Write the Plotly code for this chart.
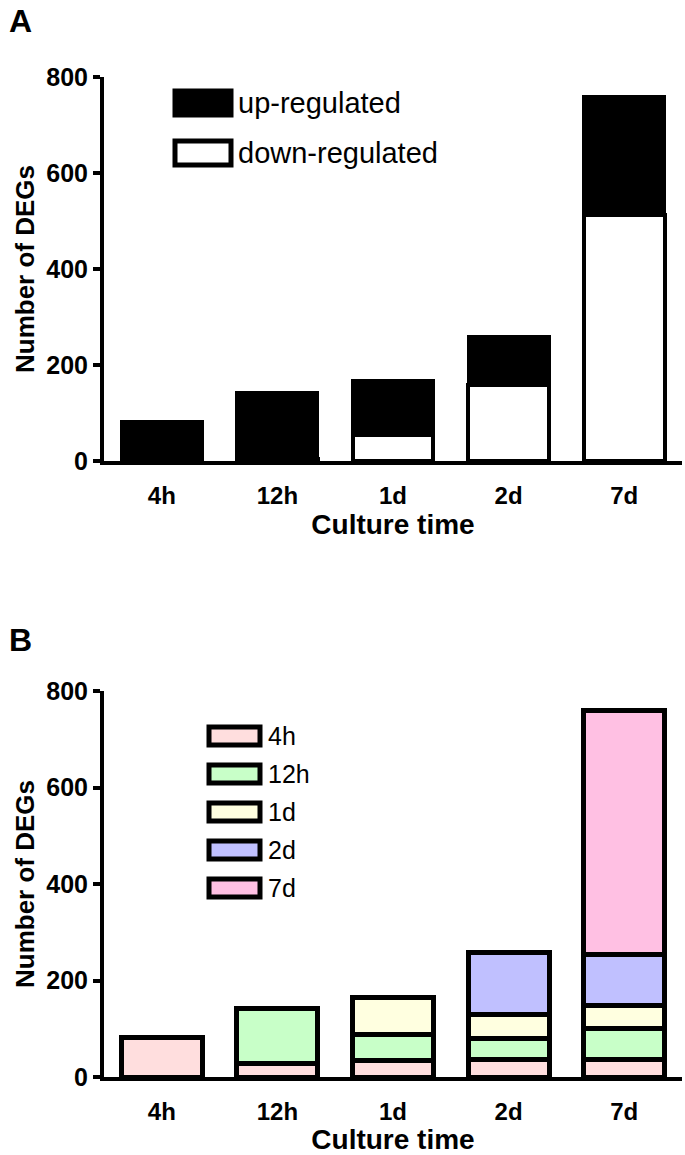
import plotly.graph_objects as go
from plotly.subplots import make_subplots

categories = ["4h", "12h", "1d", "2d", "7d"]

# Panel A
down_regulated = [0, 4, 55, 158, 512]
up_regulated = [83, 139, 113, 102, 248]

# Panel B (composition of each bar by time point of first appearance)
seg_4h = [82, 28, 35, 37, 37]
seg_12h = [None, 114, 54, 43, 64]
seg_1d = [None, None, 76, 50, 47]
seg_2d = [None, None, None, 128, 106]
seg_7d = [None, None, None, None, 506]

y_ticks = [0, 200, 400, 600, 800]
colors_B = ["#FFDEDE", "#C8FFC8", "#FFFFE0", "#C0C0FF", "#FFC0E3"]

W, H = 685, 1155
ML, MR, MT, MB = 104, 3, 77, 78
PW = W - ML - MR
PH = H - MT - MB

fig = make_subplots(rows=2, cols=1, vertical_spacing=0.0)

BW = 0.7
fig.add_trace(go.Bar(x=categories, y=down_regulated, marker=dict(color="white", line=dict(color="black", width=4)),
                     width=BW, showlegend=False), row=1, col=1)
fig.add_trace(go.Bar(x=categories, y=up_regulated, marker=dict(color="black", line=dict(color="black", width=3)),
                     width=BW, showlegend=False), row=1, col=1)

for seg, col in zip([seg_4h, seg_12h, seg_1d, seg_2d, seg_7d], colors_B):
    fig.add_trace(go.Bar(x=categories, y=seg, marker=dict(color=col, line=dict(color="black", width=5)),
                         width=BW, showlegend=False), row=2, col=1)

FONT = "Liberation Sans, Arial"

def px_x(p):
    return (p - ML) / PW

def px_y(p):
    return (H - MB - p) / PH

fig.update_layout(
    width=W, height=H, barmode="stack", bargap=0.3,
    plot_bgcolor="white", paper_bgcolor="white",
    margin=dict(l=ML, r=MR, t=MT, b=MB),
)

yA = (1.0, (H - MB - 461) / PH)
yB = ((H - MB - 691) / PH, 0.0)

for r, dom in [(1, [yA[1], yA[0]]), (2, [yB[1], yB[0]])]:
    fig.update_yaxes(row=r, col=1, domain=dom, range=[0, 800], tickvals=y_ticks,
                     showgrid=False, zeroline=False, showline=True, linecolor="black", linewidth=4,
                     ticks="outside", ticklen=7, tickwidth=4, tickcolor="black",
                     tickfont=dict(family=FONT, size=25, color="black", weight="bold"),
                     title=dict(text="<b>Number of DEGs</b>", font=dict(family=FONT, size=26, color="black"),
                                standoff=5))
    fig.update_xaxes(row=r, col=1, showgrid=False, zeroline=False, showline=True, linecolor="black", linewidth=4,
                     ticks="", ticklabelstandoff=10,
                     tickfont=dict(family=FONT, size=24, color="black", weight="bold"),
                     title=dict(text="<b>Culture time</b>", font=dict(family=FONT, size=28, color="black"),
                                standoff=7),
                     range=[-0.5, 4.5])

shapes = []
annotations = []

# Panel letters
annotations.append(dict(text="<b>A</b>", x=px_x(7), y=px_y(21), xref="paper", yref="paper",
                        xanchor="left", yanchor="middle", showarrow=False,
                        font=dict(family=FONT, size=32, color="black")))
annotations.append(dict(text="<b>B</b>", x=px_x(7), y=px_y(640), xref="paper", yref="paper",
                        xanchor="left", yanchor="middle", showarrow=False,
                        font=dict(family=FONT, size=32, color="black")))

# Legend A
legA = [("up-regulated", "black", 103), ("down-regulated", "white", 153)]
for label, fill, cy in legA:
    shapes.append(dict(type="rect", xref="paper", yref="paper",
                       x0=px_x(175), x1=px_x(231), y0=px_y(cy - 12), y1=px_y(cy + 12),
                       fillcolor=fill, line=dict(color="black", width=5)))
    annotations.append(dict(text=label, x=px_x(236), y=px_y(cy), xref="paper", yref="paper",
                            xanchor="left", yanchor="middle", showarrow=False,
                            font=dict(family=FONT, size=29, color="black")))

# Legend B
for i, (label, fill) in enumerate(zip(categories, colors_B)):
    cy = 736 + 38 * i
    shapes.append(dict(type="rect", xref="paper", yref="paper",
                       x0=px_x(209), x1=px_x(260), y0=px_y(cy - 9), y1=px_y(cy + 9),
                       fillcolor=fill, line=dict(color="black", width=5)))
    annotations.append(dict(text=label, x=px_x(266), y=px_y(cy), xref="paper", yref="paper",
                            xanchor="left", yanchor="middle", showarrow=False,
                            font=dict(family=FONT, size=25, color="black")))

fig.update_layout(shapes=shapes, annotations=annotations)

fig.write_html("out.html", config={"displayModeBar": False},
               post_script="document.body.style.margin='0';")
